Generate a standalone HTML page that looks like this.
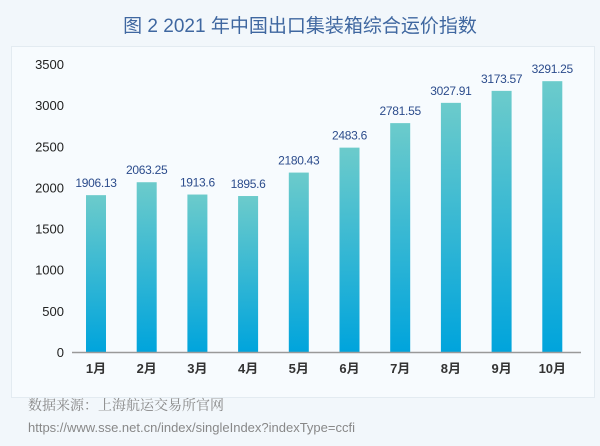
<!DOCTYPE html>
<html><head><meta charset="utf-8"><style>
body{margin:0;background:#f2f7fb;width:600px;height:441px;overflow:hidden;font-family:"Liberation Sans","Noto Sans CJK SC",sans-serif}
</style></head><body>
<svg width="600" height="441">
<defs><linearGradient id="g" x1="0" y1="0" x2="0" y2="1"><stop offset="0" stop-color="#6ccbcb"/><stop offset="1" stop-color="#00a4dc"/></linearGradient></defs>
<text x="300" y="32" text-anchor="middle" font-size="19" fill="#3f67a0">图 2  2021 年中国出口集装箱综合运价指数</text>
<rect x="11.5" y="46.5" width="583" height="351" fill="#f7fbfe" stroke="#e3ebf1"/>
<g id="yaxis"></g><g id="bars"></g>
<line x1="72" y1="352.5" x2="581" y2="352.5" stroke="#999" stroke-width="1.5"/>
<text x="28" y="410" font-size="14" fill="#888" font-family="'Noto Serif CJK SC',serif">数据来源：上海航运交易所官网</text>
<text x="28" y="432" font-size="13" fill="#888">https://www.sse.net.cn/index/singleIndex?indexType=ccfi</text>
</svg>
<script>
const categories=["1月","2月","3月","4月","5月","6月","7月","8月","9月","10月"];
const values=[1906.13,2063.25,1913.6,1895.6,2180.43,2483.6,2781.55,3027.91,3173.57,3291.25];
const valueLabels=["1906.13","2063.25","1913.6","1895.6","2180.43","2483.6","2781.55","3027.91","3173.57","3291.25"];
const yTicks=[0,500,1000,1500,2000,2500,3000,3500];
const NS="http://www.w3.org/2000/svg";
const y=v=>352-v*288/3500;
const x=i=>96+i*50.7;
const ya=document.getElementById('yaxis'),bg=document.getElementById('bars');
function mk(t,a,p,txt){const e=document.createElementNS(NS,t);for(const k in a)e.setAttribute(k,a[k]);if(txt!=null)e.textContent=txt;p.appendChild(e);return e;}
yTicks.forEach(t=>{const e=mk('text',{x:64,y:y(t)+5,'text-anchor':'end','font-size':13,fill:'#222'},ya,String(t));

});
values.forEach((v,i)=>{
const r=mk('rect',{x:x(i)-10,y:y(v),width:20,height:352-y(v),fill:'url(#g)'},bg);


const l=mk('text',{x:x(i),y:y(v)-8,'text-anchor':'middle','font-size':12,fill:'#2c4c8c','letter-spacing':'-0.3'},bg,valueLabels[i]);


const c=mk('text',{x:x(i),y:373,'text-anchor':'middle','font-size':13,'font-weight':'bold',fill:'#333'},bg,categories[i]);


});
</script>
</body></html>
